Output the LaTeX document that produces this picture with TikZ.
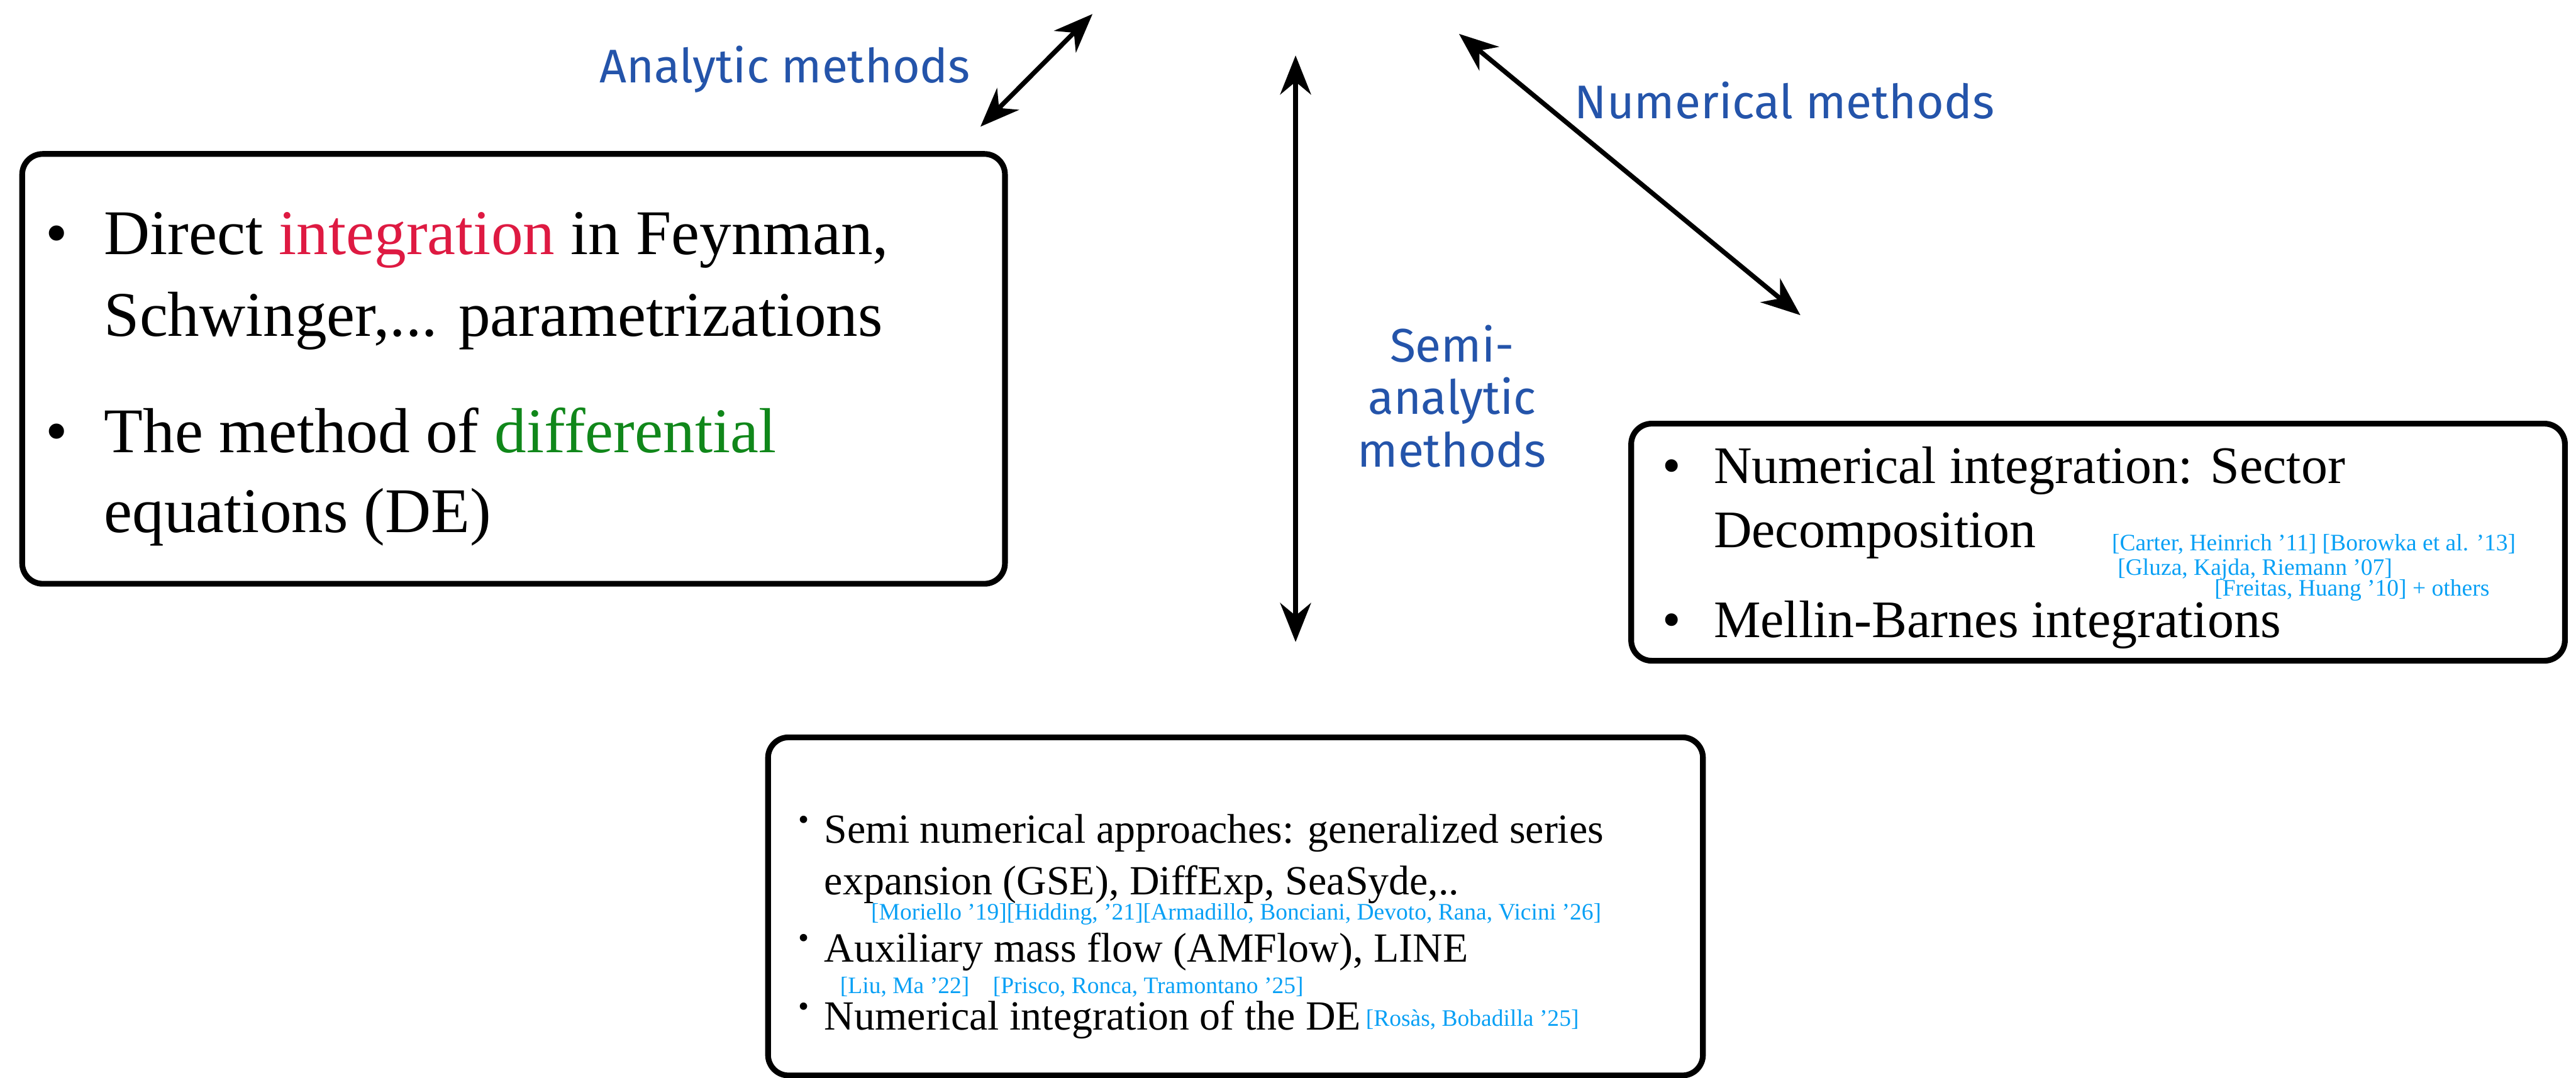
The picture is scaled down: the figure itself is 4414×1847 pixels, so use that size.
\documentclass[tikz,border=0pt]{standalone}
\usepackage{fontspec}
\setmainfont{Liberation Serif}
\newfontfamily\etiqfont{Fira Sans}
\usetikzlibrary{arrows.meta, positioning}
\definecolor{azul}{RGB}{36,84,170}
\definecolor{rojo}{RGB}{222,26,66}
\definecolor{verde}{RGB}{16,135,26}
\definecolor{celeste}{RGB}{8,160,245}

\begin{document}
\begin{tikzpicture}[
        x=0.01cm, y=-0.01cm,
        caja/.style 2 args={draw, line width=2.8pt, rounded corners=10pt, minimum width=#1, minimum height=#2, inner sep=0pt},
        grande/.style={font=\fontsize{31}{37}\selectfont, anchor=base west, inner sep=0pt},
        medio/.style={font=\fontsize{25.7}{31}\selectfont, anchor=base west, inner sep=0pt},
        chico/.style={font=\fontsize{20.2}{24}\selectfont, anchor=base west, inner sep=0pt},
        bala/.style={font=\fontsize{15}{15}\selectfont, anchor=base, inner sep=0pt},
        cita/.style={font=\fontsize{11.5}{14}\selectfont, text=celeste, anchor=base west, inner sep=0pt},
        etiqueta/.style={font=\etiqfont\fontsize{23}{25.6}\selectfont, text=azul, inner sep=0pt, align=center},
        flecha/.style={{Stealth[length=19pt,width=15pt]}-{Stealth[length=19pt,width=15pt]}, line width=2.3pt}
    ]
        \useasboundingbox (0,0) rectangle (4414,1847);

        % cajas
        \node[caja={16.83cm}{7.36cm}] (analitico) at (880,632) {};
        \node[caja={15.99cm}{4.06cm}] (numerico) at (3595,929) {};
        \node[caja={16.01cm}{5.79cm}] (semi) at (2117,1553) {};

        % analitico
        \node[grande, anchor=base] (v1) at (97,436) {\textbullet};
        \node[grande] (a1) at (178,436) {Direct \textcolor{rojo}{integration} in Feynman,};
        \node[grande] (a2) at (178,576) {Schwinger,... parametrizations};
        \node[grande, anchor=base] (v2) at (97,775) {\textbullet};
        \node[grande] (a3) at (178,775) {The method of \textcolor{verde}{differential}};
        \node[grande] (a4) at (178,912) {equations (DE)};

        % numerico
        \node[medio, anchor=base] (v3) at (2864,828) {\textbullet};
        \node[medio] (n1) at (2936,828) {Numerical integration: Sector};
        \node[medio] (n2) at (2936,938) {Decomposition};
        \node[medio, anchor=base] (v4) at (2864,1092) {\textbullet};
        \node[medio] (n3) at (2936,1092) {Mellin-Barnes integrations};
        \node[cita] (c1) at (3618,943) {[Carter, Heinrich ’11] [Borowka et al. ’13]};
        \node[cita] (c2) at (3628,986) {[Gluza, Kajda, Riemann ’07]};
        \node[cita] (c3) at (3794,1021) {[Freitas, Huang ’10] + others};

        % semi-analitico
        \node[bala] (v5) at (1377,1422) {\textbullet};
        \node[chico] (s1) at (1412,1445) {Semi numerical approaches: generalized series};
        \node[chico] (s2) at (1412,1533) {expansion (GSE), DiffExp, SeaSyde,..};
        \node[cita] (c4) at (1492,1576) {[Moriello ’19][Hidding, ’21][Armadillo, Bonciani, Devoto, Rana, Vicini ’26]};
        \node[bala] (v6) at (1377,1625) {\textbullet};
        \node[chico] (s3) at (1412,1648) {Auxiliary mass flow (AMFlow), LINE};
        \node[cita] (c5) at (1439,1702) {[Liu, Ma ’22]\quad[Prisco, Ronca, Tramontano ’25]};
        \node[bala] (v7) at (1377,1742) {\textbullet};
        \node[chico] (s4) at (1412,1765) {Numerical integration of the DE};
        \node[cita] (c6) at ([xshift=2pt, yshift=2pt]s4.base east) {[Rosàs, Bobadilla ’25]};

        % etiquetas
        \node[etiqueta, anchor=base] (lanal) at (1345,142) {Analytic methods};
        \node[etiqueta, anchor=base] (lnum) at (3058,203) {Numerical methods};
        \node[etiqueta, anchor=north] (lsemi) at (2488,556) {Semi-\\analytic\\methods};

        % flechas
        \coordinate (anA) at (1680,217);
        \coordinate (anB) at (1872,24);
        \coordinate (veA) at (2220,95);
        \coordinate (veB) at (2220,1100);
        \coordinate (nuA) at (2500,58);
        \coordinate (nuB) at (3085,540);
        \draw[flecha] (anA) -- (anB);
        \draw[flecha] (veA) -- (veB);
        \draw[flecha] (nuA) -- (nuB);
    \end{tikzpicture}
\end{document}
